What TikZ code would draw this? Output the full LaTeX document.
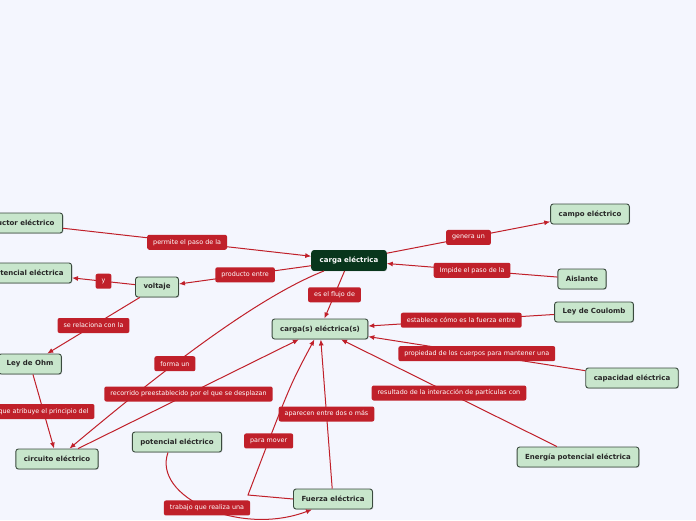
\documentclass[tikz,border=0pt]{standalone}
\usepackage{fontspec}
\setmainfont{DejaVu Sans}
\usetikzlibrary{shadows, arrows.meta, calc}

\definecolor{bgblue}{HTML}{F4F6FE}
\definecolor{nodegreen}{HTML}{C8E6CC}
\definecolor{nodeedge}{HTML}{3A4A3E}
\definecolor{linkred}{HTML}{C0202A}
\definecolor{rootgreen}{HTML}{08361C}

\begin{document}
\begin{tikzpicture}[x=1pt, y=-1pt,
    concept/.style={draw=nodeedge, fill=nodegreen, rounded corners=2.5pt, line width=0.9pt,
        minimum height=20pt, inner xsep=8pt, inner ysep=0pt, text=black!85,
        font=\fontsize{7}{8}\selectfont\bfseries,
        drop shadow={opacity=0.3, shadow xshift=0.8pt, shadow yshift=-0.8pt}},
    root/.style={concept, fill=rootgreen, draw=rootgreen, text=white},
    lbl/.style={fill=linkred, rounded corners=2pt, text=white, minimum height=15pt,
        inner xsep=6pt, inner ysep=0pt, font=\fontsize{6.4}{7}\selectfont},
    link/.style={draw=linkred, line width=1pt, -{Latex[length=6pt, width=5pt]}}]

    % Background and page size
    \fill[bgblue] (0,0) rectangle (696,520);
    \useasboundingbox (0,0) rectangle (696,520);

    % Central concepts
    \node[root] (cargaE) at (349,260.5) {carga eléctrica};
    \node[concept] (cargas) at (320,329) {carga(s) eléctrica(s)};

    % Left side
    \node[concept, anchor=east] (conductor) at (63,223) {conductor eléctrico};
    \node[concept, anchor=east] (potElec) at (72,273) {potencial eléctrica};
    \node[concept] (voltaje) at (157,287) {voltaje};
    \node[concept] (ohm) at (30,364) {Ley de Ohm};
    \node[concept] (circuito) at (57,459) {circuito eléctrico};
    \node[concept] (potE) at (177,442) {potencial eléctrico};
    \node[concept] (fuerza) at (333,499) {Fuerza eléctrica};

    % Right side
    \node[concept] (campo) at (590,214) {campo eléctrico};
    \node[concept] (aislante) at (582,279) {Aislante};
    \node[concept] (coulomb) at (594,312) {Ley de Coulomb};
    \node[concept] (capacidad) at (632,378) {capacidad eléctrica};
    \node[concept] (energia) at (578,457) {Energía potencial eléctrica};

    % Helper point for the bent link
    \coordinate (pm) at (248,495);

    % Links with their labels
    \draw[link] ([xshift=-25pt]cargaE.south) .. controls (250,300) and (143,387) .. (circuito)
        node[lbl, pos=0.58] {forma un};
    \draw[link] (conductor) -- (cargaE) node[lbl, midway] {permite el paso de la};
    \draw[link] (cargaE) -- (voltaje) node[lbl, midway] {producto entre};
    \draw[link] (voltaje) -- (potElec) node[lbl, midway] {y};
    \draw[link] (voltaje) -- (ohm) node[lbl, midway] {se relaciona con la};
    \draw[link] (ohm) -- (circuito) node[lbl, midway] {que atribuye el principio del};
    \draw[link] (circuito) -- (cargas) node[lbl, midway] {recorrido preestablecido por el que se desplazan};
    \draw[link] (cargaE) -- (cargas) node[lbl, midway] {es el flujo de};
    \draw[link] (cargaE) -- (campo) node[lbl, midway] {genera un};
    \draw[link] (aislante) -- (cargaE) node[lbl, midway] {Impide el paso de la};
    \draw[link] (coulomb) -- (cargas) node[lbl, midway] {establece cómo es la fuerza entre};
    \draw[link] (capacidad) -- (cargas) node[lbl, midway] {propiedad de los cuerpos para mantener una};
    \draw[link] (energia) -- (cargas) node[lbl, midway] {resultado de la interacción de partículas con};
    \draw[link] (fuerza) -- (cargas) node[lbl, midway] {aparecen entre dos o más};
    \draw[link] (fuerza.west) -- (pm) .. controls (290,385) .. (cargas) node[lbl, pos=0.2] {para mover};
    \draw[link] ([xshift=-9pt]potE.south) .. controls (152,497) and (240,537) .. ([xshift=-21pt]fuerza.south)
        node[lbl, pos=0.5] {trabajo que realiza una};
\end{tikzpicture}
\end{document}
